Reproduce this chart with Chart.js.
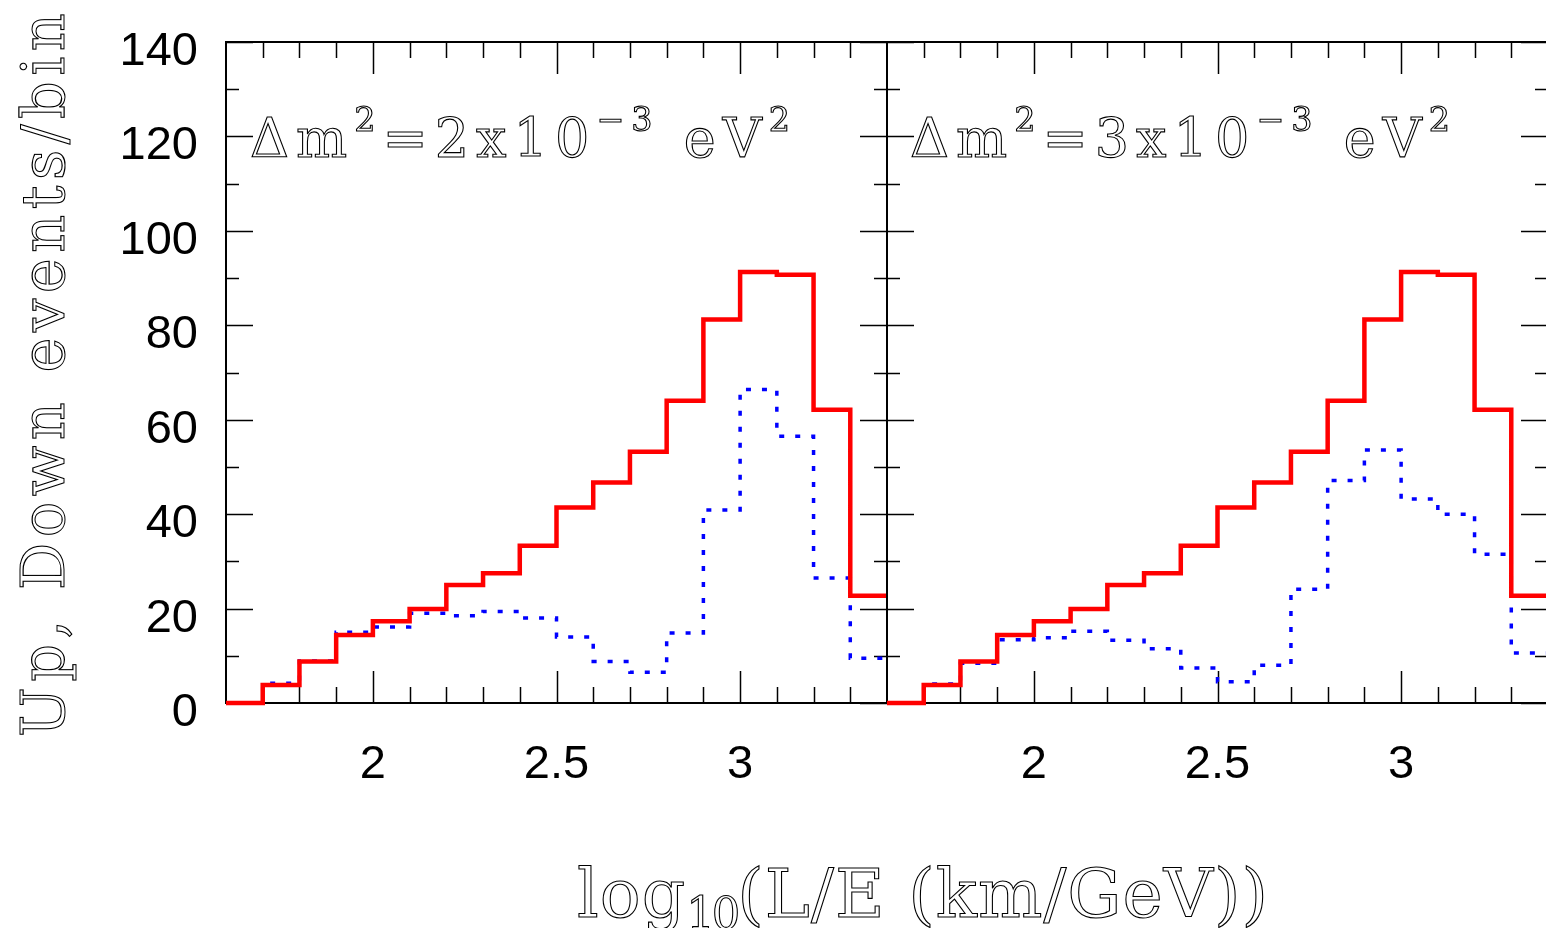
<!DOCTYPE html>
<html>
<head>
<meta charset="utf-8">
<title>Up/Down events per bin vs log10(L/E)</title>
<script src="https://cdn.jsdelivr.net/npm/chart.js@4/dist/chart.umd.min.js"></script>
<style>
  html, body { margin: 0; padding: 0; background: #fff; }
  #fig { position: relative; width: 1546px; height: 928px; overflow: hidden; background: #fff; }
  #fig canvas { position: absolute; top: 0; }
  .hollow {
    position: absolute; white-space: nowrap; line-height: 1;
    font-family: "DejaVu Serif", serif; color: #fff;
    -webkit-text-stroke: 1.1px #000;
  }
  .note { font-size: 54px; letter-spacing: 7px; top: 112px; }
  .note sup { font-size: 0.62em; vertical-align: 26px; line-height: 0; }
  #ytitle { font-size: 59px; letter-spacing: 5.5px; left: 0; top: 0;
            transform-origin: 0 0; transform: translate(14px, 737px) rotate(-90deg); }
  #xtitle { font-size: 68px; letter-spacing: 1px; left: 577px; top: 860px; }
  #xtitle sub { font-size: 0.66em; vertical-align: -12px; line-height: 0; letter-spacing: -3px; }
</style>
</head>
<body>
<div id="fig">
  <canvas id="panelA" width="890" height="928" style="left:0"></canvas>
  <canvas id="panelB" width="663" height="928" style="left:886px"></canvas>
  <div class="hollow note" style="left:250px">Δm<sup>2</sup>=2x10<sup>−3</sup> eV<sup>2</sup></div>
  <div class="hollow note" style="left:910px">Δm<sup>2</sup>=3x10<sup>−3</sup> eV<sup>2</sup></div>
  <div class="hollow" id="ytitle">Up, Down events/bin</div>
  <div class="hollow" id="xtitle">log<sub>10</sub>(L/E (km/GeV))</div>
</div>
<script>
// Histogram bins in log10(L/E): lower edges, width 0.1
const binLow = [1.6, 1.7, 1.8, 1.9, 2.0, 2.1, 2.2, 2.3, 2.4, 2.5, 2.6, 2.7, 2.8, 2.9, 3.0, 3.1, 3.2, 3.3];
const binWidth = 0.1;

// Down-going events (solid red), same in both panels
const downEvents = [0, 3.8, 8.8, 14.4, 17.3, 19.9, 25.0, 27.5, 33.3, 41.4, 46.7, 53.2, 64.0, 81.2, 91.3, 90.7, 62.1, 22.7];
// Up-going events (dotted blue) for dm^2 = 2e-3 and 3e-3 eV^2
const upEventsDm2 = [0, 4.2, 8.9, 15.0, 16.1, 19.0, 18.5, 19.4, 18.0, 14.0, 8.8, 6.5, 14.8, 40.9, 66.4, 56.5, 26.5, 9.5];
const upEventsDm3 = [0, 4.0, 8.4, 13.4, 13.8, 15.2, 13.3, 11.5, 7.4, 4.5, 8.0, 24.1, 47.1, 53.6, 43.2, 40.0, 31.5, 10.6];

// Axis ticks
const xRange = [1.6, 3.4];
const xMajorTicks = [2, 2.5, 3];
const xMinorTicks = [1.7, 1.8, 1.9, 2.1, 2.2, 2.3, 2.4, 2.6, 2.7, 2.8, 2.9, 3.1, 3.2, 3.3];
const yRange = [0, 140];
const yMajorTicks = [0, 20, 40, 60, 80, 100, 120, 140];
const yMinorTicks = [10, 30, 50, 70, 90, 110, 130];

// Step-histogram points: one point per bin's lower edge plus the last upper edge
function histPoints(values) {
  const pts = binLow.map((x, i) => ({ x: x, y: values[i] }));
  pts.push({ x: binLow[binLow.length - 1] + binWidth, y: values[values.length - 1] });
  return pts;
}

// Frame plus inward major/minor tick marks on all four sides
const framePlugin = {
  id: 'frame',
  beforeDatasetsDraw(chart) {
    const { ctx, chartArea: a } = chart;
    const xs = chart.scales.x, ys = chart.scales.y;
    ctx.save();
    ctx.strokeStyle = '#000';
    ctx.lineWidth = 1.5;
    ctx.beginPath();
    const xt = (list, len) => list.forEach(v => {
      const p = Math.round(xs.getPixelForValue(v)) + 0.5;
      ctx.moveTo(p, a.bottom); ctx.lineTo(p, a.bottom - len);
      ctx.moveTo(p, a.top); ctx.lineTo(p, a.top + len);
    });
    const yt = (list, len) => list.forEach(v => {
      const p = Math.round(ys.getPixelForValue(v)) + 0.5;
      ctx.moveTo(a.left, p); ctx.lineTo(a.left + len, p);
      ctx.moveTo(a.right, p); ctx.lineTo(a.right - len, p);
    });
    xt(xMajorTicks, 32); xt(xMinorTicks, 16);
    yt(yMajorTicks, 27); yt(yMinorTicks, 13);
    ctx.stroke();
    ctx.lineWidth = 2;
    ctx.strokeRect(a.left, a.top, a.right - a.left, a.bottom - a.top);
    ctx.restore();
  }
};

const tickFont = { family: '"Liberation Sans", Arial, sans-serif', size: 47 };
const noGrid = { display: false, drawTicks: false, tickLength: 0 };

function makePanel(id, upValues, withYAxis) {
  return new Chart(document.getElementById(id), {
    type: 'line',
    data: {
      datasets: [
        { label: 'Down', data: histPoints(downEvents), borderColor: '#ff0000', borderWidth: 4.5,
          stepped: 'before', pointRadius: 0, fill: false, clip: false,
          borderJoinStyle: 'miter', borderCapStyle: 'butt' },
        { label: 'Up', data: histPoints(upValues), borderColor: '#0000ff', borderWidth: 3.5,
          borderDash: [5, 11], stepped: 'before', pointRadius: 0, fill: false, clip: false,
          borderJoinStyle: 'miter', borderCapStyle: 'butt' }
      ]
    },
    options: {
      responsive: false,
      animation: false,
      devicePixelRatio: 1,
      layout: { padding: withYAxis ? { left: 0, top: 42, right: 3, bottom: 0 }
                                   : { left: 1, top: 42, right: 1, bottom: 0 } },
      plugins: { legend: { display: false }, tooltip: { enabled: false } },
      scales: {
        x: {
          type: 'linear', min: xRange[0], max: xRange[1],
          afterBuildTicks: s => { s.ticks = xMajorTicks.map(v => ({ value: v })); },
          afterFit: s => { s.height = 225; s.paddingLeft = 0; s.paddingRight = 0; },
          grid: noGrid, border: { display: false },
          ticks: { font: tickFont, color: '#000', padding: 34, maxRotation: 0, autoSkip: false,
                   callback: v => String(v) }
        },
        y: {
          type: 'linear', min: yRange[0], max: yRange[1], display: withYAxis,
          afterBuildTicks: s => { s.ticks = yMajorTicks.map(v => ({ value: v })); },
          afterFit: s => {
            if (withYAxis) s.width = 226;
            s.paddingTop = 0; s.paddingBottom = 0;
          },
          grid: noGrid, border: { display: false },
          ticks: { font: tickFont, color: '#000', padding: 28, labelOffset: 10,
                   callback: v => String(v) }
        }
      }
    },
    plugins: [framePlugin]
  });
}

makePanel('panelA', upEventsDm2, true);
makePanel('panelB', upEventsDm3, false);
</script>
</body>
</html>
